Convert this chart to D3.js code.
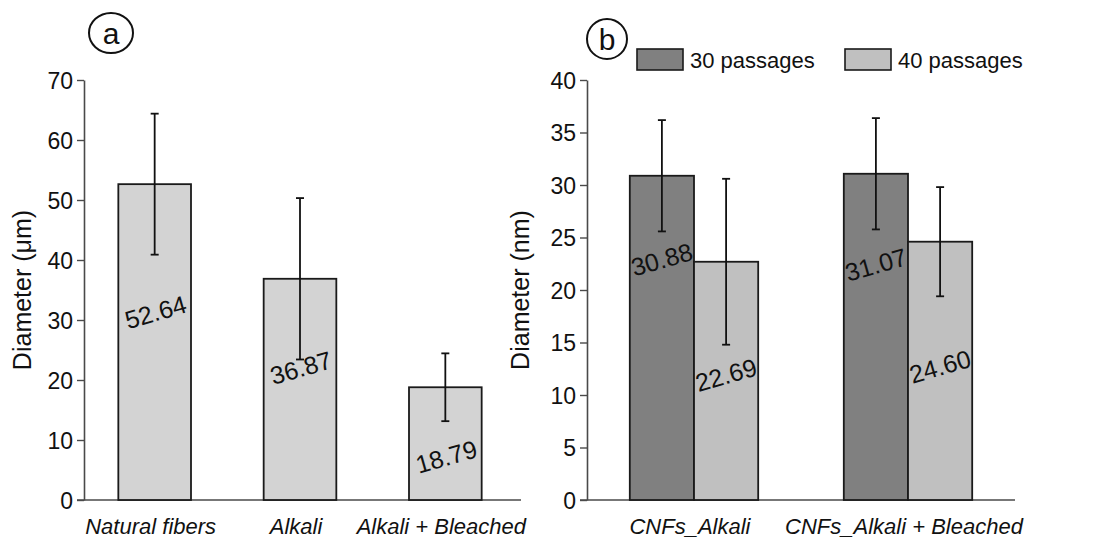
<!DOCTYPE html>
<html>
<head>
<meta charset="utf-8">
<script src="https://cdn.jsdelivr.net/npm/d3@7"></script>
<style>
  html, body { margin: 0; padding: 0; background: #fff; }
  svg { display: block; font-family: "Liberation Sans", Arial, sans-serif; }
</style>
</head>
<body>
<svg id="chart" width="1111" height="540"></svg>
<script>
// Panel (a): fiber diameter, micrometres
const fiberCategories = ["Natural fibers", "Alkali", "Alkali + Bleached"];
const fiberMeans = [52.64, 36.87, 18.79];
const fiberSD = [11.75, 13.45, 5.65];
const fiberTicks = [0, 10, 20, 30, 40, 50, 60, 70];

// Panel (b): CNF diameter, nanometres
const cnfCategories = ["CNFs_Alkali", "CNFs_Alkali + Bleached"];
const cnfSeries = ["30 passages", "40 passages"];
const cnf30 = [30.88, 31.07];
const cnf40 = [22.69, 24.60];
const cnf30SD = [5.3, 5.3];
const cnf40SD = [7.9, 5.2];
const cnfTicks = [0, 5, 10, 15, 20, 25, 30, 35, 40];

// Height (in axis units) at which each rotated value label sits
const fiberLabelAt = [31.3, 22.0, 7.2];
const cnf30LabelAt = [22.9, 22.4];
const cnf40LabelAt = [11.9, 12.7];

const svg = d3.select("#chart");
const axisColor = "#4a4a4a";
const barStroke = "#1a1a1a";

function drawYAxis(g, y, x0, ticks, label, labelX) {
  const ax = g.append("g").attr("transform", `translate(${x0},0)`)
    .call(d3.axisLeft(y).tickValues(ticks).tickSize(7).tickPadding(4).tickSizeOuter(0));
  ax.select(".domain").attr("stroke", axisColor).attr("stroke-width", 1.6);
  ax.selectAll(".tick line").attr("stroke", axisColor).attr("stroke-width", 1.4);
  ax.selectAll(".tick text").attr("fill", "#111").style("font-size", "23px")
    .attr("dy", "0.36em");
  g.append("text")
    .attr("transform", `translate(${labelX},${(y.range()[0] + y.range()[1]) / 2}) rotate(-90)`)
    .attr("text-anchor", "middle").attr("fill", "#111")
    .style("font-size", "25px").text(label);
}

function drawBaseline(g, xStart, xEnd, yPos) {
  g.append("line").attr("x1", xStart).attr("x2", xEnd).attr("y1", yPos).attr("y2", yPos)
    .attr("stroke", axisColor).attr("stroke-width", 1.6);
}

function drawXLabels(g, x, cats, yPos) {
  g.selectAll("text.xl").data(cats).join("text").attr("class", "xl")
    .attr("x", d => x(d) + x.bandwidth() / 2 - 4).attr("y", yPos)
    .attr("text-anchor", "middle").attr("fill", "#111")
    .style("font-size", "22px").style("font-style", "italic").text(d => d);
}

function drawErr(g, cx, y, mean, sd) {
  const cap = 4;
  g.append("line").attr("x1", cx).attr("x2", cx).attr("y1", y(mean + sd)).attr("y2", y(mean - sd))
    .attr("stroke", "#111").attr("stroke-width", 1.8);
  [mean + sd, mean - sd].forEach(v => {
    g.append("line").attr("x1", cx - cap).attr("x2", cx + cap).attr("y1", y(v)).attr("y2", y(v))
      .attr("stroke", "#111").attr("stroke-width", 1.8);
  });
}

function drawValueLabel(g, cx, yPos, text) {
  g.append("text").attr("transform", `translate(${cx},${yPos}) rotate(-16)`)
    .attr("text-anchor", "middle").attr("dy", "0.35em").attr("fill", "#111")
    .style("font-size", "25px").text(text);
}

function panelTag(g, cx, cy, rx, ry, letter) {
  g.append("ellipse").attr("cx", cx).attr("cy", cy).attr("rx", rx).attr("ry", ry)
    .attr("fill", "none").attr("stroke", "#111").attr("stroke-width", 2);
  g.append("text").attr("x", cx).attr("y", cy).attr("dy", "0.35em")
    .attr("text-anchor", "middle").attr("fill", "#111")
    .style("font-size", "30px").text(letter);
}

// ---------- Panel (a) ----------
{
  const g = svg.append("g");
  const y = d3.scaleLinear().domain([0, 70]).range([500, 80]);
  const x = d3.scaleBand().domain(fiberCategories).range([82, 518]).paddingInner(0.5).paddingOuter(0.25);

  drawBaseline(g, 77, 521, y(0));

  g.selectAll("rect.bar").data(fiberCategories).join("rect").attr("class", "bar")
    .attr("x", d => x(d)).attr("width", x.bandwidth())
    .attr("y", (d, i) => y(fiberMeans[i])).attr("height", (d, i) => y(0) - y(fiberMeans[i]))
    .attr("fill", "#d3d3d3").attr("stroke", barStroke).attr("stroke-width", 1.8);

  fiberCategories.forEach((c, i) => {
    const cx = x(c) + x.bandwidth() / 2;
    drawErr(g, cx, y, fiberMeans[i], fiberSD[i]);
    drawValueLabel(g, cx + 1, y(fiberLabelAt[i]), fiberMeans[i].toFixed(2));
  });

  drawYAxis(g, y, 84, fiberTicks, "Diameter (\u03bcm)", 31);
  drawXLabels(g, x, fiberCategories, 534);
  panelTag(g, 111, 33, 22, 20, "a");
}

// ---------- Panel (b) ----------
{
  const g = svg.append("g");
  const y = d3.scaleLinear().domain([0, 40]).range([500, 80]);
  const x0 = d3.scaleBand().domain(cnfCategories).range([587, 1015]).paddingInner(0.4).paddingOuter(0.2);
  const x1 = d3.scaleBand().domain(cnfSeries).range([0, x0.bandwidth()]);
  const colors = d3.scaleOrdinal().domain(cnfSeries).range(["#808080", "#c0c0c0"]);
  const means = [cnf30, cnf40];
  const sds = [cnf30SD, cnf40SD];
  const labelAt = [cnf30LabelAt, cnf40LabelAt];

  drawBaseline(g, 580, 1015, y(0));

  cnfSeries.forEach((s, si) => {
    g.selectAll(`rect.s${si}`).data(cnfCategories).join("rect").attr("class", `s${si}`)
      .attr("x", d => x0(d) + x1(s)).attr("width", x1.bandwidth())
      .attr("y", (d, i) => y(means[si][i])).attr("height", (d, i) => y(0) - y(means[si][i]))
      .attr("fill", colors(s)).attr("stroke", barStroke).attr("stroke-width", 1.8);
  });
  cnfSeries.forEach((s, si) => {
    cnfCategories.forEach((c, i) => {
      const cx = x0(c) + x1(s) + x1.bandwidth() / 2;
      drawErr(g, cx, y, means[si][i], sds[si][i]);
      drawValueLabel(g, cx, y(labelAt[si][i]), means[si][i].toFixed(2));
    });
  });

  drawYAxis(g, y, 587, cnfTicks, "Diameter (nm)", 529);
  drawXLabels(g, x0, cnfCategories, 534);
  panelTag(g, 607, 39, 20, 20, "b");

  // Legend
  const legendX = [637, 845];
  cnfSeries.forEach((s, i) => {
    g.append("rect").attr("x", legendX[i]).attr("y", 49).attr("width", 46).attr("height", 21)
      .attr("fill", colors(s)).attr("stroke", barStroke).attr("stroke-width", 1.6);
    g.append("text").attr("x", legendX[i] + 53).attr("y", 68).attr("fill", "#111")
      .style("font-size", "22px").text(s);
  });
}
</script>
</body>
</html>
